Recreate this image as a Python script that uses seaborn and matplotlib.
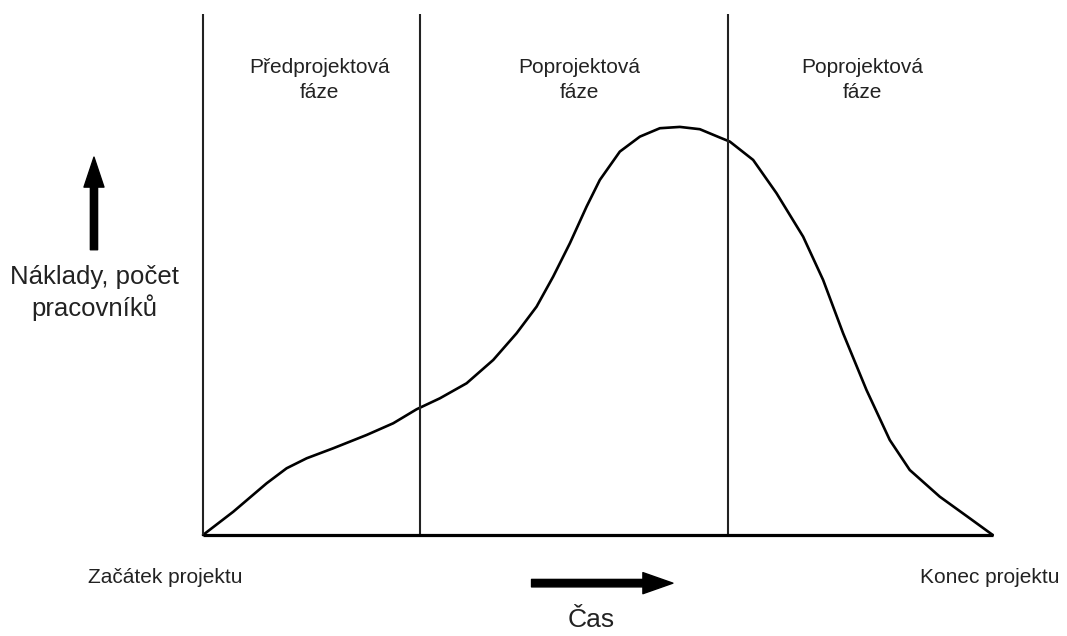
import numpy as np
import pandas as pd
import matplotlib.pyplot as plt
import seaborn as sns

sns.set_theme(style="white")
plt.rcParams['font.family'] = ['Liberation Sans', 'DejaVu Sans']

# průběh nákladů v čase (čas 0-100 %, náklady 0-100 %)
time_pct = [0, 3.84, 8.06, 10.59, 13.13, 16.49, 20.72, 24.09, 27.05, 30.0,
            33.38, 36.75, 39.71, 42.24, 44.34, 46.46, 48.57, 50.25, 52.78,
            55.32, 57.85, 60.38, 62.91, 65.44, 66.71, 69.66, 72.62, 75.99,
            78.52, 81.05, 84.01, 86.96, 89.49, 93.29, 97.09, 100]
cost_pct = [0, 5.71, 12.67, 16.35, 18.80, 21.25, 24.51, 27.38, 30.81, 33.50,
            37.18, 42.89, 49.44, 55.96, 63.31, 71.50, 80.47, 87.01, 93.95,
            97.62, 99.68, 100, 99.44, 97.4, 96.4, 91.91, 83.75, 73.11,
            62.50, 49.44, 35.54, 23.28, 15.93, 9.39, 4.09, 0]

phase_bounds = [0, 27.5, 66.5]
phase_labels = ['Předprojektová\nfáze', 'Poprojektová\nfáze', 'Poprojektová\nfáze']
phase_label_x = [14.8, 47.7, 83.5]

df = pd.DataFrame({'cas': time_pct, 'naklady': cost_pct})

fig = plt.figure(figsize=(10.67, 6.36), dpi=100)
ax = fig.add_axes([0, 0, 1, 1])

sns.lineplot(data=df, x='cas', y='naklady', sort=False, color='black',
             linewidth=1.9, solid_joinstyle='round', ax=ax)

# fáze a osa
ax.vlines(phase_bounds, 0, 127.7, color='#222222', linewidth=1.5)
ax.hlines(0, 0, 100, color='black', linewidth=2.3)

for x, lab in zip(phase_label_x, phase_labels):
    ax.text(x, 111.5, lab, ha='center', va='center', fontsize=15,
            linespacing=1.4, color='#222222')

# šipky
ax.annotate('', xy=(-13.8, 92.6), xytext=(-13.8, 69.9),
            arrowprops=dict(arrowstyle='simple,head_length=1.08,head_width=0.72,tail_width=0.26',
                            mutation_scale=20, color='black', shrinkA=0, shrinkB=0))
ax.annotate('', xy=(59.5, -11.8), xytext=(41.6, -11.8),
            arrowprops=dict(arrowstyle='simple,head_length=1.08,head_width=0.76,tail_width=0.27',
                            mutation_scale=20, color='black', shrinkA=0, shrinkB=0))

ax.text(-13.7, 59.3, 'Náklady, počet\npracovníků', ha='center', va='center',
        fontsize=18.5, linespacing=1.25, color='#222222')
ax.text(-4.8, -10.5, 'Začátek projektu', ha='center', va='center',
        fontsize=15, color='#222222')
ax.text(99.6, -10.5, 'Konec projektu', ha='center', va='center',
        fontsize=15, color='#222222')
ax.text(49.2, -20.8, 'Čas', ha='center', va='center', fontsize=19,
        color='#222222')

ax.set_xlim(-25.7, 109.4)
ax.set_ylim(-24.75, 131.1)
ax.axis('off')

fig.savefig('out.png', dpi=100)
